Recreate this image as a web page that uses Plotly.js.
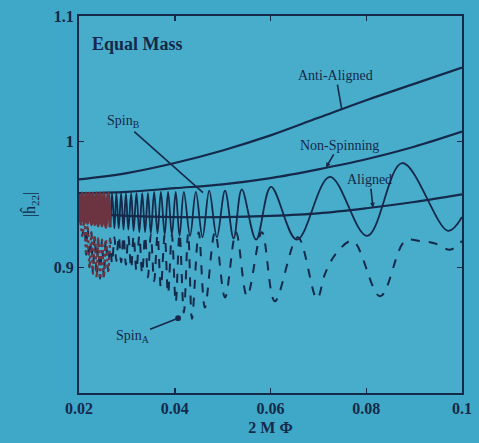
<!DOCTYPE html>
<html>
<head>
<meta charset="utf-8">
<script src="https://cdn.plot.ly/plotly-3.0.1.min.js"></script>
<style>
  html, body { margin: 0; padding: 0; background: #3fa7c7; }
  #chart { width: 479px; height: 443px; }
</style>
</head>
<body>
<div id="chart"></div>
<script>
// Orbital-phase grid for the smooth (non-precessing) amplitude curves
const phaseGrid = [0.02, 0.03, 0.04, 0.05, 0.06, 0.07, 0.08, 0.09, 0.10];
const antiAligned = [0.970, 0.975, 0.983, 0.993, 1.005, 1.019, 1.033, 1.046, 1.059];
const nonSpinning = [0.959, 0.960, 0.963, 0.966, 0.971, 0.978, 0.986, 0.996, 1.008];
const aligned     = [0.943, 0.941, 0.940, 0.940, 0.941, 0.943, 0.947, 0.952, 0.958];

// Precessing case B (solid): successive maxima and minima of |h22|
const spinBx = [0.0200, 0.0204, 0.0207, 0.0211, 0.0215, 0.0218, 0.0222, 0.0226, 0.0229, 0.0233,
                0.0237, 0.0240, 0.0244, 0.0248, 0.0252, 0.0256, 0.0261, 0.0265, 0.0269, 0.0274,
                0.0278, 0.0283, 0.0288, 0.0293, 0.0298, 0.0303, 0.0309, 0.0314, 0.0320, 0.0326,
                0.0332, 0.0338, 0.0344, 0.0350, 0.0357, 0.0364, 0.0371, 0.0379, 0.0386, 0.0394,
                0.0402, 0.0410, 0.0419, 0.0432, 0.0444, 0.0458, 0.0472, 0.0488, 0.0505, 0.0523,
                0.0540, 0.0570, 0.0601, 0.0655, 0.0724, 0.0802, 0.0875, 0.0971, 0.1000];
const spinBy = [0.958, 0.936, 0.959, 0.935, 0.959, 0.935, 0.959, 0.934, 0.959, 0.934,
                0.959, 0.933, 0.959, 0.933, 0.959, 0.932, 0.959, 0.932, 0.959, 0.931,
                0.959, 0.931, 0.959, 0.930, 0.959, 0.930, 0.959, 0.929, 0.959, 0.928,
                0.959, 0.928, 0.959, 0.927, 0.960, 0.927, 0.960, 0.926, 0.960, 0.926,
                0.960, 0.925, 0.960, 0.925, 0.960, 0.924, 0.961, 0.924, 0.961, 0.923,
                0.962, 0.922, 0.964, 0.922, 0.972, 0.925, 0.983, 0.929, 0.940];

// Precessing case A (dashed)
const spinAx = [0.0200, 0.0207, 0.0211, 0.0215, 0.0218, 0.0222, 0.0226, 0.0229, 0.0233, 0.0237,
                0.0240, 0.0244, 0.0248, 0.0252, 0.0256, 0.0261, 0.0265, 0.0269, 0.0274, 0.0278,
                0.0283, 0.0288, 0.0293, 0.0298, 0.0303, 0.0309, 0.0314, 0.0320, 0.0326, 0.0332,
                0.0338, 0.0344, 0.0350, 0.0357, 0.0364, 0.0371, 0.0379, 0.0386, 0.0394, 0.0402,
                0.0410, 0.0419, 0.0428, 0.0436, 0.0450, 0.0463, 0.0484, 0.0505, 0.0528, 0.0551,
                0.0582, 0.0609, 0.0657, 0.0697, 0.0714, 0.0739, 0.0772, 0.0829, 0.0881, 0.0912,
                0.0944, 0.0975, 0.1000];
const spinAy = [0.955, 0.925, 0.940, 0.910, 0.933, 0.900, 0.928, 0.895, 0.925, 0.892,
                0.923, 0.891, 0.922, 0.892, 0.922, 0.897, 0.923, 0.903, 0.924, 0.905,
                0.925, 0.904, 0.925, 0.902, 0.925, 0.899, 0.925, 0.897, 0.925, 0.895,
                0.925, 0.892, 0.926, 0.889, 0.926, 0.884, 0.926, 0.879, 0.926, 0.872,
                0.927, 0.864, 0.927, 0.859, 0.928, 0.868, 0.928, 0.876, 0.928, 0.877,
                0.928, 0.873, 0.924, 0.875, 0.895, 0.912, 0.921, 0.877, 0.921, 0.921,
                0.919, 0.914, 0.921];

// Where the fringes crowd together at small phase they print as a brownish blur
const crowdedUpTo = 0.0265;

const ink = '#15294a';
const crowdInk = '#6c3440';
const serif = 'Liberation Serif, Times New Roman, serif';

const curve = (x, y, dash, w, color) => ({
  x: x, y: y, type: 'scatter', mode: 'lines', hoverinfo: 'skip',
  line: { color: color || ink, width: w, dash: dash, shape: 'spline', smoothing: 1 }
});

const head = (xs, ys) => {
  const n = xs.filter(v => v <= crowdedUpTo).length;
  return [xs.slice(0, n), ys.slice(0, n)];
};
const [bHeadX, bHeadY] = head(spinBx, spinBy);
const [aHeadX, aHeadY] = head(spinAx, spinAy);

const traces = [
  curve(phaseGrid, antiAligned, 'solid', 2.2),
  curve(phaseGrid, nonSpinning, 'solid', 2.2),
  curve(phaseGrid, aligned, 'solid', 2.2),
  curve(spinAx, spinAy, 'dash', 2),
  curve(spinBx, spinBy, 'solid', 1.8),
  curve(aHeadX, aHeadY, 'dot', 2.2, crowdInk),
  curve(bHeadX, bHeadY, 'solid', 3.2, crowdInk)
];

const note = (text, x, y, ax, ay, headStyle, size) => ({
  text: text, x: x, y: y, xref: 'x', yref: 'y', ax: ax, ay: ay,
  showarrow: true, arrowhead: headStyle, arrowsize: size, arrowwidth: 1.6, arrowcolor: ink,
  font: { family: serif, size: 14, color: ink }
});

const layout = {
  width: 479, height: 443,
  margin: { l: 79, r: 17, t: 16, b: 50 },
  paper_bgcolor: '#3fa7c7',
  plot_bgcolor: '#48adcb',
  showlegend: false,
  font: { family: serif, color: ink },
  xaxis: {
    range: [0.02, 0.1], tickvals: [0.02, 0.04, 0.06, 0.08, 0.1],
    ticks: 'inside', ticklen: 5, tickcolor: ink, tickwidth: 1.5,
    showline: true, linecolor: ink, linewidth: 2, mirror: 'ticks',
    showgrid: false, zeroline: false,
    tickfont: { family: serif, size: 16, color: ink, weight: 'bold' },
    title: { text: '2 M Φ', standoff: 6, font: { family: serif, size: 16, color: ink, weight: 'bold' } }
  },
  yaxis: {
    range: [0.8, 1.1], tickvals: [0.9, 1, 1.1],
    ticks: 'inside', ticklen: 5, tickcolor: ink, tickwidth: 1.5,
    showline: true, linecolor: ink, linewidth: 2, mirror: 'ticks',
    showgrid: false, zeroline: false,
    tickfont: { family: serif, size: 16, color: ink, weight: 'bold' },
    title: { text: '|ĥ<sub>22</sub>|', standoff: 14, font: { family: serif, size: 16, color: ink } }
  },
  annotations: [
    { text: '<b>Equal Mass</b>', xref: 'paper', yref: 'paper', x: 0.03, y: 0.925,
      xanchor: 'left', yanchor: 'middle', showarrow: false,
      font: { family: serif, size: 18, color: ink } },
    note('Anti-Aligned', 0.0749, 1.0255, -6, -34, 0, 1),
    note('Non-Spinning', 0.0716, 0.9795, 13, -22, 2, 0.6),
    note('Aligned', 0.0814, 0.9475, -3, -28, 2, 0.6),
    note('Spin<sub>B</sub>', 0.0459, 0.9595, -80, -71, 0, 1),
    note('Spin<sub>A</sub>', 0.0407, 0.8595, -46, 18, 6, 0.9)
  ]
};

Plotly.newPlot('chart', traces, layout, { staticPlot: true, displayModeBar: false });
</script>
</body>
</html>
